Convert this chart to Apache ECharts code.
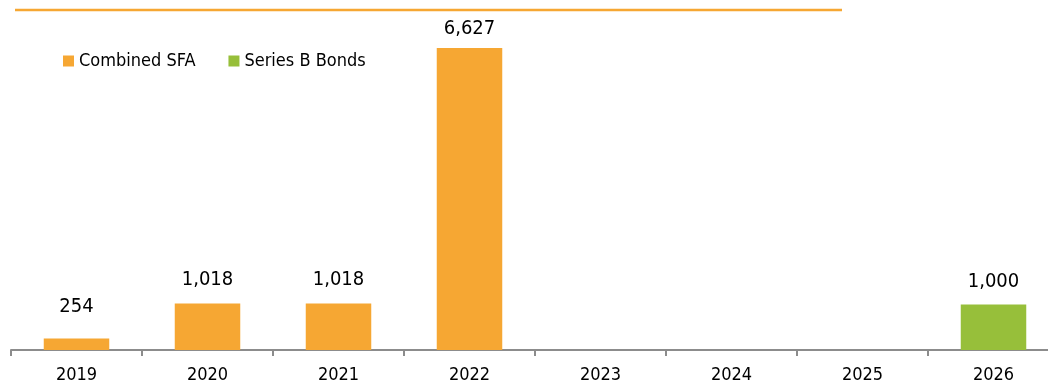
<!DOCTYPE html>
<html>
<head>
<meta charset="utf-8">
<script src="https://cdn.jsdelivr.net/npm/echarts@6/dist/echarts.min.js"></script>
<style>
  html, body { margin: 0; padding: 0; background: #fff; overflow: hidden; }
  #chart { width: 1060px; height: 385px; }
</style>
</head>
<body>
<div id="chart"></div>
<script>
// categories and values
var years = ['2019', '2020', '2021', '2022', '2023', '2024', '2025', '2026'];
var combinedSFA = [254, 1018, 1018, 6627, '-', '-', '-', '-'];
var seriesBBonds = ['-', '-', '-', '-', '-', '-', '-', 1000];

var font = '"DejaVu Sans Condensed", "Liberation Sans", sans-serif';
// gap between each label and its bar top (the source labels sit unevenly)
var labelGap = [22, 14, 14, 9, 10, 10, 10, 13];

function fmt(p) {
  return p.value.toLocaleString('en-US');
}

function withLabels(values) {
  return values.map(function (v, i) {
    if (v === '-') return v;
    return { value: v, label: { distance: labelGap[i] } };
  });
}

var myChart = echarts.init(document.getElementById('chart'));
var option = {
  animation: false,
  textStyle: { fontFamily: font },
  graphic: [{
    type: 'line',
    shape: { x1: 15, y1: 10, x2: 842, y2: 10 },
    style: { stroke: '#F6A733', lineWidth: 2.5 }
  }],
  legend: {
    left: 58,
    top: 47,
    itemWidth: 11,
    itemHeight: 11,
    itemGap: 33,
    icon: 'rect',
    textStyle: { fontFamily: font, fontSize: 18, color: '#000' },
    data: ['Combined SFA', 'Series B Bonds']
  },
  grid: {
    left: 11,
    top: 31,
    width: 1048,
    height: 319,
    containLabel: false
  },
  xAxis: {
    type: 'category',
    data: years,
    axisLine: { lineStyle: { color: '#8C8C8C', width: 2 } },
    axisTick: { show: true, length: 6, lineStyle: { color: '#8C8C8C', width: 2 } },
    axisLabel: { color: '#000', fontSize: 18, fontFamily: font, margin: 16 }
  },
  yAxis: {
    type: 'value',
    min: 0,
    max: 7000,
    show: false,
    splitLine: { show: false }
  },
  series: [{
    name: 'Combined SFA',
    type: 'bar',
    stack: 'total',
    barWidth: '50%',
    itemStyle: { color: '#F6A733' },
    label: {
      show: true,
      position: 'top',
      color: '#000',
      fontSize: 20,
      fontFamily: font,
      formatter: fmt
    },
    data: withLabels(combinedSFA)
  }, {
    name: 'Series B Bonds',
    type: 'bar',
    stack: 'total',
    barWidth: '50%',
    itemStyle: { color: '#97BF3A' },
    label: {
      show: true,
      position: 'top',
      color: '#000',
      fontSize: 20,
      fontFamily: font,
      formatter: fmt
    },
    data: withLabels(seriesBBonds)
  }]
};
myChart.setOption(option);
</script>
</body>
</html>
